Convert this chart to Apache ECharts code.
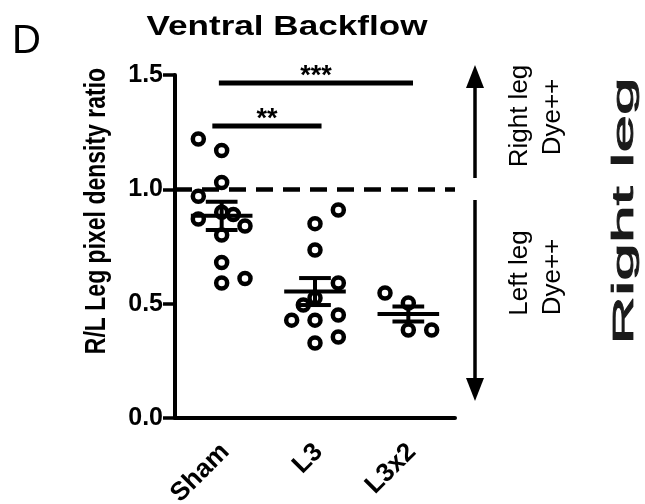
<!DOCTYPE html>
<html lang="en">
<head>
<meta charset="UTF-8">
<script src="https://cdn.jsdelivr.net/npm/echarts@6/dist/echarts.min.js"></script>
<style>
  html, body { margin: 0; padding: 0; background: #fff; }
  #chart { width: 645px; height: 504px; }
</style>
</head>
<body>
<div id="chart"></div>
<script>
// groups along the x axis
const categories = ['Sham', 'L3', 'L3x2'];

// individual ratios per group
const shamValues = [1.22, 1.17, 1.03, 0.97, 0.87, 0.90, 0.89, 0.84, 0.80, 0.68, 0.59, 0.61];
const l3Values = [0.91, 0.85, 0.735, 0.59, 0.525, 0.494, 0.428, 0.428, 0.45, 0.328, 0.354];
const l3x2Values = [0.547, 0.503, 0.385, 0.385];

// which column of the scatter each point sits in (-1 left, 0 centre, 1 right)
const shamColumn = [-1, 0, 0, -1, -1, 0, 0.5, 1, 0, 0, 0, 1];
const l3Column = [1, 0, 0, 1, 0, -0.5, -1, 0, 1, 0, 1];
const l3x2Column = [-1, 0, 0, 1];

// mean +/- SEM
const groupMeans = [0.884, 0.553, 0.455];
const groupSems = [0.062, 0.059, 0.033];

// significance bars
const sigFrom = [-0.1, -0.03];
const sigTo = [1.07, 2.05];
const sigHeight = [1.277, 1.465];
const sigStars = ['**', '***'];

// dashed reference, y ticks
const refLevel = 1.0;
const yMin = 0, yMax = 1.5, yStep = 0.5;

const allValues = [shamValues, l3Values, l3x2Values];
const allColumns = [shamColumn, l3Column, l3x2Column];
const colWidth = 0.25;

let points = [];
allValues.forEach(function (vals, g) {
    vals.forEach(function (v, j) {
        points.push([g + allColumns[g][j] * colWidth, v]);
    });
});
let meanData = groupMeans.map(function (m, g) { return [g, m, groupSems[g]]; });
let sigData = sigFrom.map(function (f, k) { return [f, sigTo[k], sigHeight[k], k]; });

let chart = echarts.init(document.getElementById('chart'));
const FONT = '"Liberation Sans", Arial, sans-serif';

let option = {
    animation: false,
    grid: { left: 175, right: 190, top: 75, bottom: 86, containLabel: false, outerBoundsMode: 'none' },
    xAxis: [
        {
            type: 'category',
            data: categories,
            axisLine: { onZero: false, lineStyle: { color: '#000', width: 4 } },
            axisTick: { alignWithLabel: true, length: 9, lineStyle: { color: '#000', width: 3.5 } },
            axisLabel: {
                rotate: 45, verticalAlign: 'top', margin: 15, padding: [0, 8, 0, 0],
                color: '#000', fontFamily: FONT, fontWeight: 'bold', fontSize: 26
            },
            splitLine: { show: false }
        },
        {
            type: 'value', min: -0.5, max: 2.5, show: false
        }
    ],
    yAxis: {
        type: 'value', min: yMin, max: yMax, interval: yStep,
        axisLine: { show: true, onZero: false, lineStyle: { color: '#000', width: 4 } },
        axisTick: { show: true, length: 12, lineStyle: { color: '#000', width: 3.5 } },
        axisLabel: {
            margin: 12, color: '#000', fontFamily: FONT, fontWeight: 'bold', fontSize: 25,
            formatter: function (v) { return v.toFixed(1); }
        },
        splitLine: { show: false }
    },
    series: [
        {
            type: 'scatter',
            xAxisIndex: 1,
            data: points,
            symbol: 'circle',
            symbolSize: 11,
            itemStyle: { color: 'rgba(255,255,255,0)', borderColor: '#000', borderWidth: 4.5, opacity: 1 },
            markLine: {
                silent: true,
                symbol: 'none',
                label: { show: false },
                lineStyle: { color: '#000', width: 4.5, type: [17, 10] },
                data: [{ yAxis: refLevel }]
            },
            z: 3
        },
        {
            type: 'custom',
            xAxisIndex: 1,
            data: meanData,
            encode: { x: 0, y: 1 },
            renderItem: function (params, api) {
                const x = api.value(0), m = api.value(1), s = api.value(2);
                const mid = api.coord([x, m]);
                const hi = api.coord([x, m + s]);
                const lo = api.coord([x, m - s]);
                const half = api.size([0.33, 0])[0];
                const cap = api.size([0.17, 0])[0];
                const st = { stroke: '#000', lineWidth: 4 };
                return {
                    type: 'group',
                    children: [
                        { type: 'line', shape: { x1: mid[0] - half, y1: mid[1], x2: mid[0] + half, y2: mid[1] }, style: st },
                        { type: 'line', shape: { x1: mid[0], y1: hi[1], x2: mid[0], y2: lo[1] }, style: st },
                        { type: 'line', shape: { x1: mid[0] - cap, y1: hi[1], x2: mid[0] + cap, y2: hi[1] }, style: st },
                        { type: 'line', shape: { x1: mid[0] - cap, y1: lo[1], x2: mid[0] + cap, y2: lo[1] }, style: st }
                    ]
                };
            },
            z: 4
        },
        {
            type: 'custom',
            xAxisIndex: 1,
            data: sigData,
            encode: { x: [0, 1], y: 2 },
            renderItem: function (params, api) {
                const a = api.coord([api.value(0), api.value(2)]);
                const b = api.coord([api.value(1), api.value(2)]);
                return {
                    type: 'group',
                    children: [
                        { type: 'line', shape: { x1: a[0], y1: a[1], x2: b[0], y2: b[1] }, style: { stroke: '#000', lineWidth: 5 } },
                        {
                            type: 'text',
                            style: {
                                text: sigStars[api.value(3)],
                                x: (a[0] + b[0]) / 2, y: a[1] - 6,
                                align: 'center', verticalAlign: 'middle',
                                font: 'bold 27px ' + FONT, fill: '#000'
                            }
                        }
                    ]
                };
            },
            z: 4
        }
    ],
    graphic: [
        { type: 'text', x: 12, y: 42, style: { text: 'D', font: '40px ' + FONT, fill: '#000', verticalAlign: 'middle' } },
        {
            type: 'text', x: 287, y: 28, scaleX: 1.3,
            style: { text: 'Ventral Backflow', font: 'bold 27px ' + FONT, fill: '#000', align: 'center', verticalAlign: 'middle' }
        },
        {
            type: 'text', x: 97, y: 211, rotation: Math.PI / 2, scaleY: 1.25,
            style: { text: 'R/L Leg pixel density ratio', font: 'bold 23px ' + FONT, fill: '#000', align: 'center', verticalAlign: 'middle' }
        },
        // arrows
        { type: 'line', shape: { x1: 475, y1: 178, x2: 475, y2: 84 }, style: { stroke: '#000', lineWidth: 3.5 } },
        { type: 'polygon', shape: { points: [[466, 88], [484, 88], [475, 65]] }, style: { fill: '#000' } },
        { type: 'line', shape: { x1: 475, y1: 200, x2: 475, y2: 382 }, style: { stroke: '#000', lineWidth: 3.5 } },
        { type: 'polygon', shape: { points: [[466, 378], [484, 378], [475, 401]] }, style: { fill: '#000' } },
        {
            type: 'text', x: 520, y: 116, rotation: Math.PI / 2,
            style: { text: 'Right leg', font: '26px ' + FONT, fill: '#000', align: 'center', verticalAlign: 'middle' }
        },
        {
            type: 'text', x: 553, y: 117, rotation: Math.PI / 2,
            style: { text: 'Dye++', font: '26px ' + FONT, fill: '#000', align: 'center', verticalAlign: 'middle' }
        },
        {
            type: 'text', x: 520, y: 273, rotation: Math.PI / 2,
            style: { text: 'Left leg', font: '26px ' + FONT, fill: '#000', align: 'center', verticalAlign: 'middle' }
        },
        {
            type: 'text', x: 553, y: 277, rotation: Math.PI / 2,
            style: { text: 'Dye++', font: '26px ' + FONT, fill: '#000', align: 'center', verticalAlign: 'middle' }
        },
        {
            type: 'text', x: 625, y: 211, rotation: Math.PI / 2, scaleX: 2.26,
            style: { text: 'Right leg', font: '30px ' + FONT, fill: '#1a1a1a', align: 'center', verticalAlign: 'middle',
                     stroke: '#1a1a1a', lineWidth: 0.8 }
        }
    ]
};

chart.setOption(option);
</script>
</body>
</html>
